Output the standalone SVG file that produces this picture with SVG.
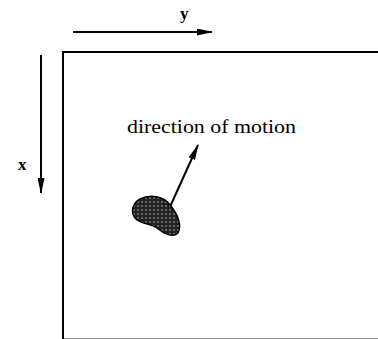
<svg xmlns="http://www.w3.org/2000/svg" width="378" height="339" viewBox="0 0 378 339">
<style>
.lbl{font-family:"Liberation Serif","Times New Roman",serif;fill:#000}
.ax{stroke:#000;stroke-width:2;fill:none}
</style>
<defs>
<marker id="ah" viewBox="0 0 16 7" refX="15" refY="3.5" markerWidth="8" markerHeight="3.5" orient="auto" markerUnits="strokeWidth">
<path d="M0,0 L16,3.5 L0,7 z" fill="#000"/>
</marker>
<pattern id="dots" width="4" height="4" patternUnits="userSpaceOnUse">
<rect width="4" height="4" fill="#222"/>
<circle cx="2" cy="2" r="0.8" fill="#bbb"/>
</pattern>
</defs>
<rect width="378" height="339" fill="#fff"/>
<g id="frame">
<path d="M63,339 V52 H378" stroke="#000" stroke-width="2" fill="none"/>
<line x1="64" y1="338.5" x2="378" y2="338.5" stroke="#999" stroke-width="1"/>
</g>
<g id="connectors">
<line class="ax" x1="73" y1="32" x2="212" y2="32" marker-end="url(#ah)"/>
<line class="ax" x1="41" y1="55" x2="41" y2="193" marker-end="url(#ah)"/>
<line class="ax" x1="169" y1="209" x2="198" y2="145" stroke-width="2.5" marker-end="url(#ah)"/>
</g>
<g id="y-label"><text class="lbl" x="180" y="19" font-size="17" font-weight="bold">y</text></g>
<g id="x-label"><text class="lbl" x="18" y="170" font-size="17" font-weight="bold">x</text></g>
<g id="blob">
<path d="M140,199 C150,194 164,196 170,205 C178,214 182,226 178,233 C173,238 164,234 157,228 C150,223 140,224 135,218 C130,211 133,203 140,199 z" fill="url(#dots)" stroke="#000" stroke-width="1.5"/>
</g>
<g id="motion-label"><text class="lbl" x="127" y="133" font-size="19" textLength="169" lengthAdjust="spacingAndGlyphs">direction of motion</text></g>
</svg>
